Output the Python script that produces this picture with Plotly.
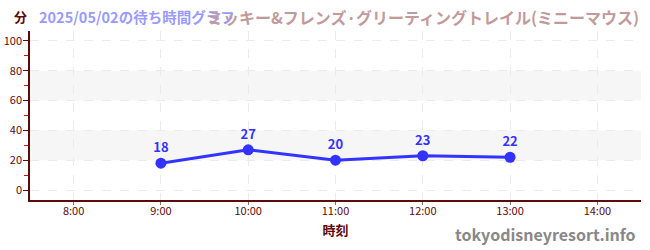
import plotly.graph_objects as go

hours = [9, 10, 11, 12, 13]
waits = [18, 27, 20, 23, 22]
tick_vals = [8, 9, 10, 11, 12, 13, 14]
tick_text = ["8:00", "9:00", "10:00", "11:00", "12:00", "13:00", "14:00"]
y_ticks = [0, 20, 40, 60, 80, 100]
bands = [(20, 40), (60, 80)]
date_title = "2025/05/02の待ち時間グラフ"
attraction = "ミッキー&フレンズ·グリーティングトレイル(ミニーマウス)"

AX = "#5c0a0a"
FONT = "Noto Sans CJK JP"

fig = go.Figure()
fig.add_trace(go.Scatter(
    x=hours, y=waits, mode="lines+markers+text",
    line=dict(color="#3333ff", width=3),
    marker=dict(color="#3333ff", size=11),
    text=[str(v) for v in waits], textposition="top center",
    textfont=dict(color="#3333ff", size=13, family=FONT, weight="bold"),
    hoverinfo="skip", showlegend=False, cliponaxis=False,
))

shapes = []
for lo, hi in bands:
    shapes.append(dict(type="rect", xref="paper", yref="y", x0=0, x1=1, y0=lo, y1=hi,
                       fillcolor="#f6f6f6", line=dict(width=0), layer="below"))
fig.update_layout(shapes=shapes)

fig.update_layout(
    width=650, height=250,
    margin=dict(l=30, r=9, t=31, b=50),
    plot_bgcolor="white", paper_bgcolor="white",
    font=dict(family=FONT, color=AX, size=11),
    xaxis=dict(range=[7.5, 14.5], tickvals=tick_vals, ticktext=tick_text,
               showline=True, linecolor=AX, linewidth=1.5, ticks="outside",
               tickcolor="#777777", ticklen=3, tickfont=dict(size=11, color=AX),
               ticklabelstandoff=-3, automargin=False,
               showgrid=True, gridcolor="#ebebeb", griddash="dash", zeroline=False,
               title=dict(text="<b>時刻</b>", font=dict(size=13, color=AX), standoff=9)),
    yaxis=dict(range=[-6.67, 106.67], tickvals=y_ticks,
               showline=True, linecolor=AX, linewidth=1.5, ticks="outside",
               tickcolor=AX, ticklen=5, tickfont=dict(size=11, color=AX),
               ticklabelstandoff=-1, automargin=False,
               showgrid=True, gridcolor="#ebebeb", griddash="dash", zeroline=False,
               minor=dict(dtick=10, tick0=10, ticks="outside", ticklen=4, tickcolor="#d01010",
                          showgrid=False)),
)

fig.add_annotation(text="<b>分</b>", xref="paper", yref="paper", x=-0.016, y=1.0,
                   yshift=26, xanchor="center", yanchor="top", showarrow=False,
                   font=dict(size=13, color=AX, family=FONT))
fig.add_annotation(text=date_title, xref="paper", yref="paper", x=0.012, y=1.0,
                   yshift=27, xanchor="left", yanchor="top", showarrow=False,
                   font=dict(size=14.5, color="#9a9aff", family=FONT, weight="bold"))
fig.add_annotation(text=attraction, xref="paper", yref="paper", x=1.0, y=1.0,
                   yshift=28, xanchor="right", yanchor="top", showarrow=False,
                   font=dict(size=16, color="#c29a9a", family=FONT, weight="bold"))
fig.add_annotation(text="tokyodisneyresort.info", xref="paper", yref="paper", x=0.995, y=0,
                   yshift=-20, xanchor="right", yanchor="top", showarrow=False,
                   font=dict(size=16, color="#888888", family=FONT, weight="bold"))

fig.write_html("out.html")
